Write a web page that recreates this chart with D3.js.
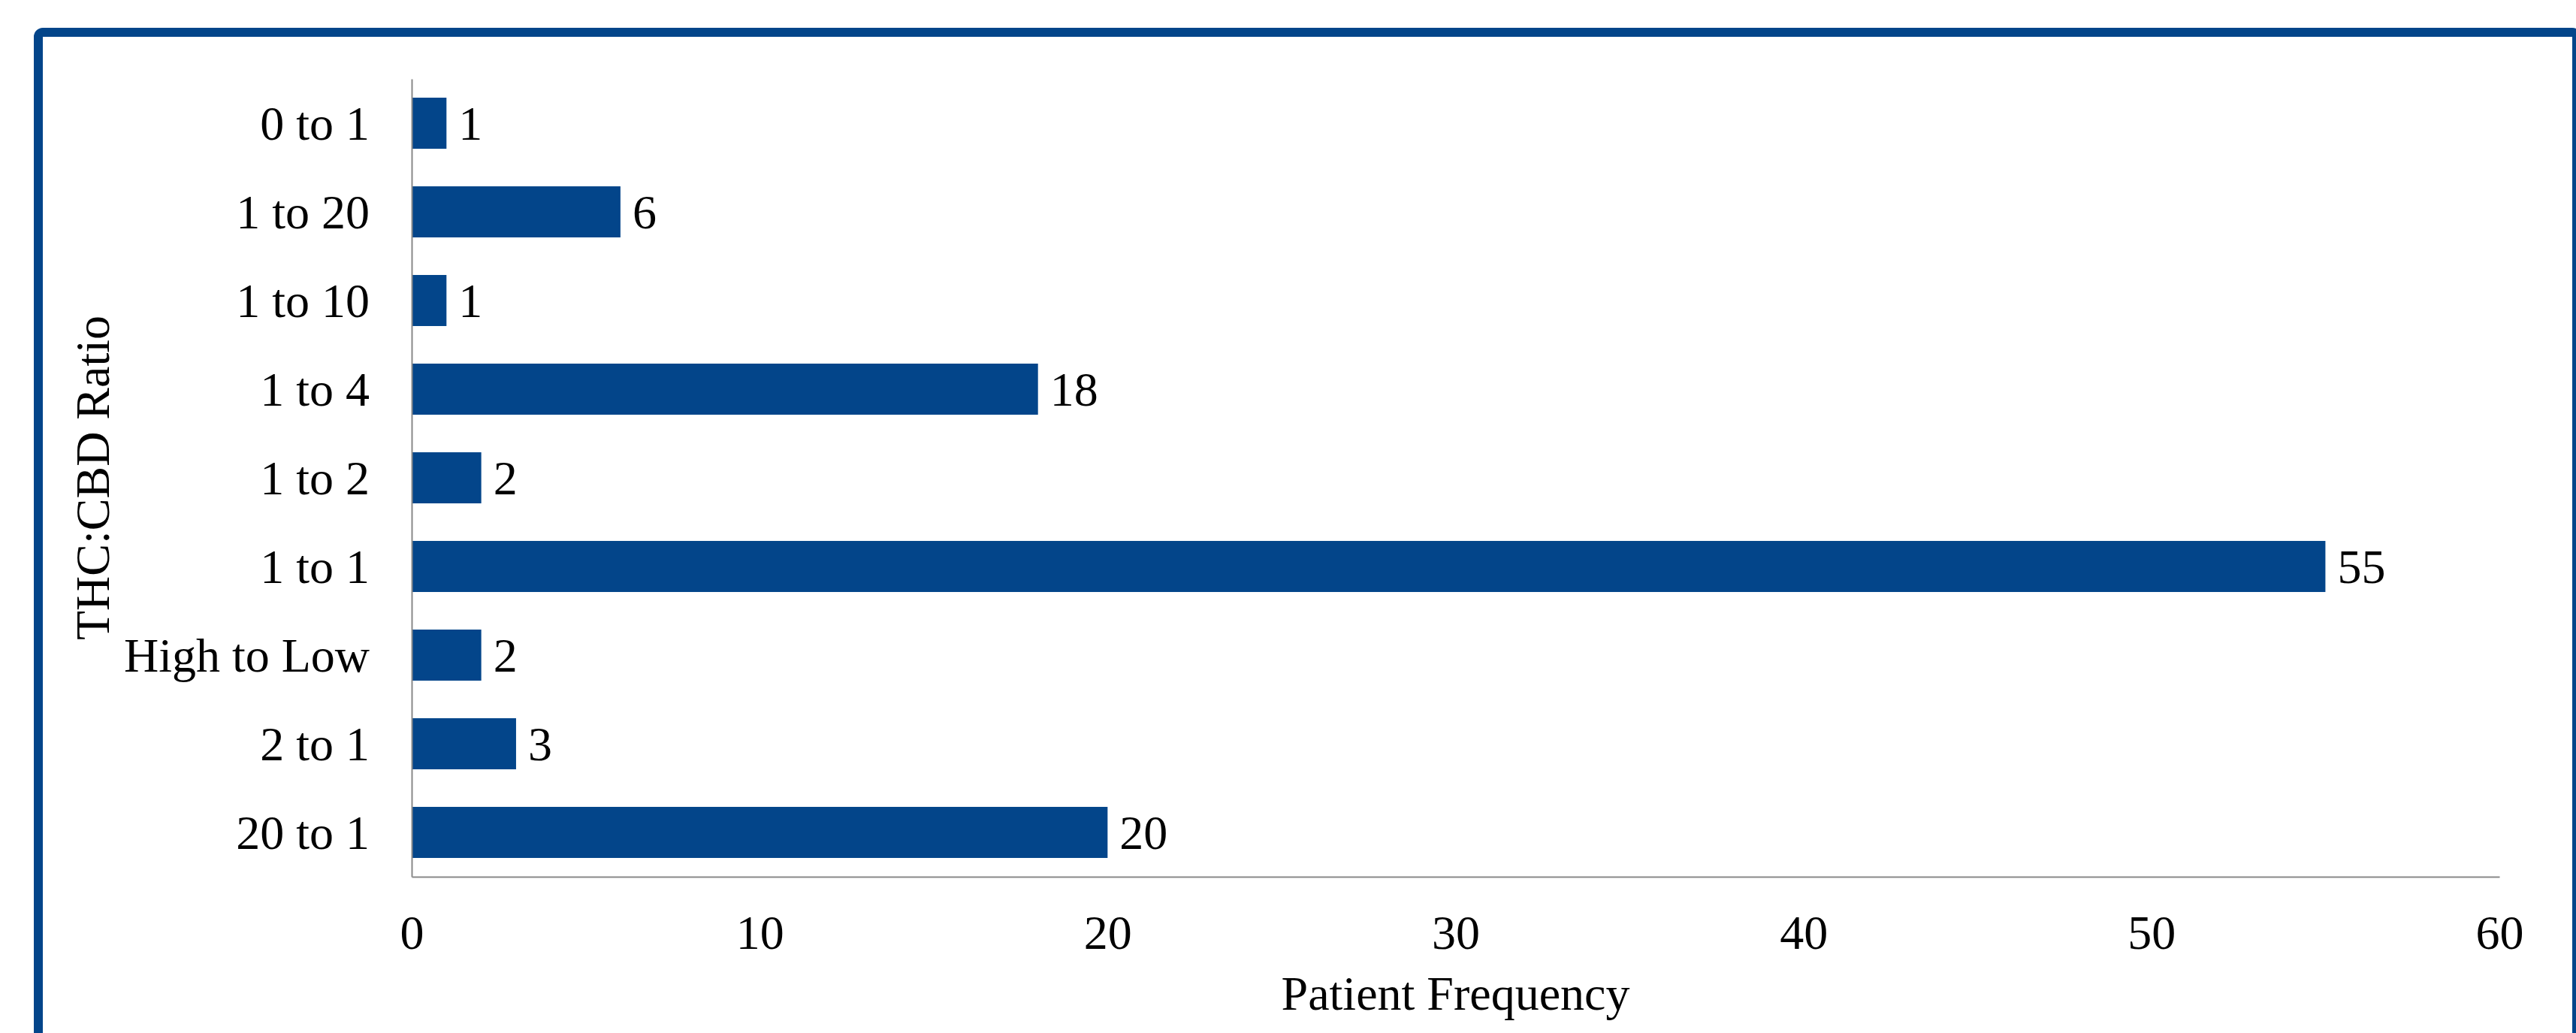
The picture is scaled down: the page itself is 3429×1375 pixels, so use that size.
<!DOCTYPE html>
<html>
<head>
<meta charset="utf-8">
<script src="https://cdn.jsdelivr.net/npm/d3@7"></script>
<style>
  html, body { margin: 0; padding: 0; background: #ffffff; }
  svg { display: block; }
  text { font-family: "Liberation Serif", "Times New Roman", serif; fill: #000; }
</style>
</head>
<body>
<svg id="chart" width="3429" height="1375"></svg>
<script>
// THC:CBD ratio categories, listed top to bottom
const categories = ["0 to 1", "1 to 20", "1 to 10", "1 to 4", "1 to 2", "1 to 1", "High to Low", "2 to 1", "20 to 1"];
// Number of patients per ratio
const patientCounts = [1, 6, 1, 18, 2, 55, 2, 3, 20];
// Frequency axis ticks
const xTicks = [0, 10, 20, 30, 40, 50, 60];

const W = 3429, H = 1375;
const plot = { left: 548, right: 3327, top: 105, bottom: 1167 };
const barColor = "#03458a";
const axisColor = "#898989";
const fontSize = 64;

const svg = d3.select("#chart");

// Outer frame (open at the bottom edge)
svg.append("rect")
  .attr("x", 51).attr("y", 43)
  .attr("width", 3379).attr("height", 1500)
  .attr("rx", 6)
  .attr("fill", "none")
  .attr("stroke", barColor)
  .attr("stroke-width", 12);

const x = d3.scaleLinear().domain([0, 60]).range([plot.left, plot.right]);
const y = d3.scaleBand().domain(categories)
  .range([plot.top, plot.bottom])
  .paddingInner(0.424).paddingOuter(0.212);

// Bars
svg.append("g").selectAll("rect")
  .data(categories)
  .join("rect")
  .attr("x", x(0))
  .attr("y", d => y(d))
  .attr("width", (d, i) => x(patientCounts[i]) - x(0))
  .attr("height", y.bandwidth())
  .attr("fill", barColor);

// Value labels at bar ends
svg.append("g").selectAll("text")
  .data(categories)
  .join("text")
  .attr("x", (d, i) => x(patientCounts[i]) + 16)
  .attr("y", d => y(d) + y.bandwidth() / 2)
  .attr("dy", "0.35em")
  .attr("font-size", fontSize)
  .text((d, i) => patientCounts[i]);

// Category axis
const yAxis = svg.append("g")
  .attr("transform", `translate(${plot.left},0)`)
  .call(d3.axisLeft(y).tickSize(0).tickPadding(56));
yAxis.select(".domain").attr("stroke", axisColor).attr("stroke-width", 2);
yAxis.selectAll("text")
  .attr("font-size", fontSize)
  .attr("font-family", "Liberation Serif, Times New Roman, serif")
  .attr("fill", "#000")
  .attr("dy", "0.34em");

// Frequency axis
const xAxis = svg.append("g")
  .attr("transform", `translate(0,${plot.bottom})`)
  .call(d3.axisBottom(x).tickValues(xTicks).tickSize(0).tickFormat(d3.format("d")));
xAxis.select(".domain").attr("stroke", axisColor).attr("stroke-width", 2);
xAxis.selectAll("text")
  .attr("font-size", fontSize)
  .attr("font-family", "Liberation Serif, Times New Roman, serif")
  .attr("fill", "#000")
  .attr("y", 96)
  .attr("dy", 0);

// Axis titles
svg.append("text")
  .attr("x", (plot.left + plot.right) / 2)
  .attr("y", 1344)
  .attr("text-anchor", "middle")
  .attr("font-size", fontSize)
  .text("Patient Frequency");

svg.append("text")
  .attr("transform", `translate(145,${(plot.top + plot.bottom) / 2}) rotate(-90)`)
  .attr("text-anchor", "middle")
  .attr("font-size", fontSize)
  .text("THC:CBD Ratio");
</script>
</body>
</html>
